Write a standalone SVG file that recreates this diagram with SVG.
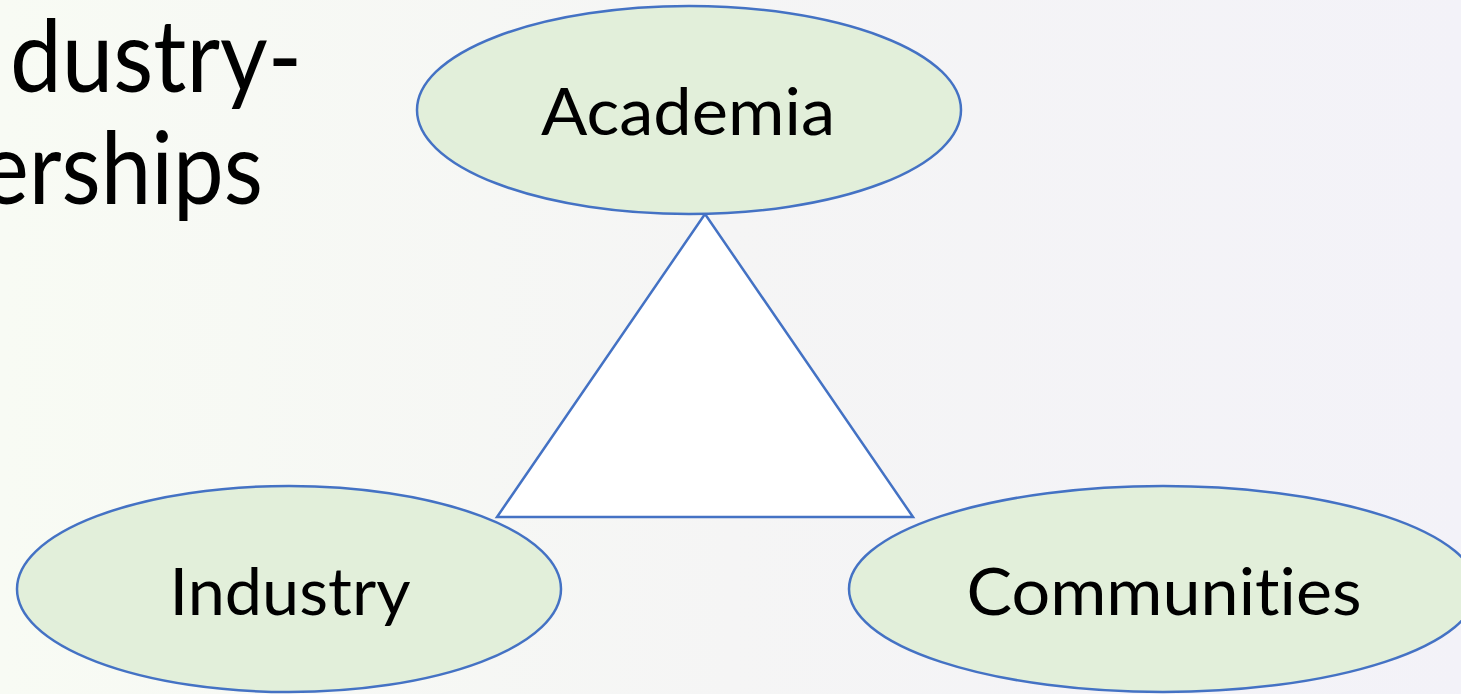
<svg xmlns="http://www.w3.org/2000/svg" width="1461" height="694" viewBox="0 0 1461 694">
  <defs>
    <linearGradient id="bg" x1="0" y1="0" x2="1" y2="0">
      <stop offset="0" stop-color="#F8FBF4"/>
      <stop offset="0.5" stop-color="#F5F5F5"/>
      <stop offset="1" stop-color="#F3F2F8"/>
    </linearGradient>
    <style>
      text { font-variant-ligatures: none; font-feature-settings: "liga" 0, "clig" 0; }
      .node { fill: #E2EFDA; stroke: #4472C4; stroke-width: 2.5; }
      .tri { fill: #FFFFFF; stroke: #4472C4; stroke-width: 2.5; stroke-linejoin: miter; }
      .label { font-family: Lato, "Liberation Sans", sans-serif; font-size: 66px; fill: #000000; text-anchor: middle; }
      .title { font-family: Lato, "Liberation Sans", sans-serif; font-size: 100px; fill: #000000; }
    </style>
  </defs>

  <rect x="0" y="0" width="1461" height="694" fill="url(#bg)"/>

  <!-- slide title, running off the left edge -->
  <g id="title">
    <text class="title" x="10" y="92" textLength="292" lengthAdjust="spacingAndGlyphs">dustry-</text>
    <text class="title" x="-19" y="204" textLength="282" lengthAdjust="spacingAndGlyphs">erships</text>
  </g>

  <!-- connecting triangle -->
  <g id="connectors">
    <polygon class="tri" points="705,214 497,517 913,517"/>
  </g>

  <g id="academia">
    <ellipse class="node" cx="689" cy="110" rx="272" ry="104"/>
    <text class="label" x="688" y="135" textLength="294" lengthAdjust="spacingAndGlyphs">Academia</text>
  </g>

  <g id="industry">
    <ellipse class="node" cx="289" cy="589" rx="272" ry="103"/>
    <text class="label" x="290" y="615" textLength="241" lengthAdjust="spacingAndGlyphs">Industry</text>
  </g>

  <g id="communities">
    <ellipse class="node" cx="1163" cy="589" rx="314" ry="103"/>
    <text class="label" x="1164" y="615" textLength="395" lengthAdjust="spacingAndGlyphs">Communities</text>
  </g>
</svg>
